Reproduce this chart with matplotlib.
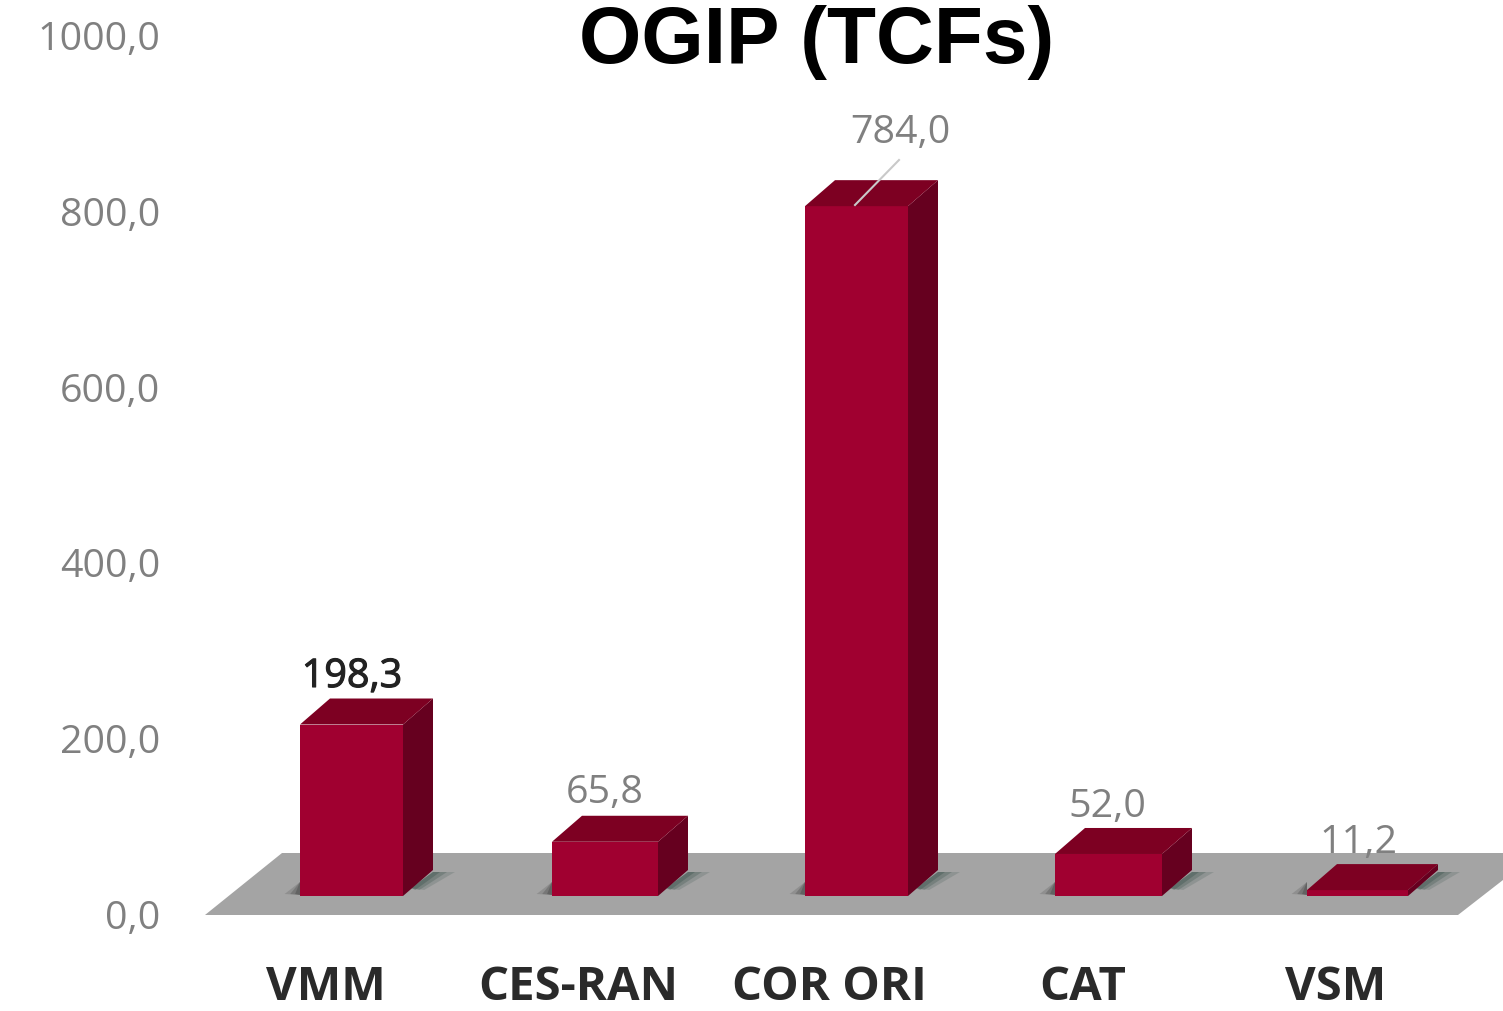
#!/usr/bin/env python3
"""OGIP (TCFs) -- fake-3D column chart with a grey floor."""
import matplotlib
matplotlib.use("Agg")
import matplotlib.pyplot as plt
import matplotlib.patheffects as pe
from matplotlib.patches import Polygon

categories = ["VMM", "CES-RAN", "COR ORI", "CAT", "VSM"]
values = [198.3, 65.8, 784.0, 52.0, 11.2]
value_labels = ["198,3", "65,8", "784,0", "52,0", "11,2"]
yticks = [0, 200, 400, 600, 800, 1000]
ytick_labels = ["0,0", "200,0", "400,0", "600,0", "800,0", "1000,0"]

FRONT, SIDE, TOP = "#a00030", "#66001f", "#7d0022"
GREY_TXT = "#808080"
W, H = 1503, 1011

plt.rcParams["font.family"] = ["Open Sans", "DejaVu Sans"]
fig = plt.figure(figsize=(W / 100, H / 100), dpi=100)
ax = fig.add_axes([0, 0, 1, 1]); ax.axis("off")
ax.set_xlim(0, W); ax.set_ylim(H, 0)   # axes in picture pixels, y maps value -> row below
Y0, Y1000 = 915.0, 36.0   # rows of the 0 and 1000 ticks
PX_PER = (Y0 - Y1000) / 1000
BAR_PX_PER = 0.885        # bars sit in perspective, slightly off the tick scale

def ypx(v):
    return Y0 - v * PX_PER

# floor
ax.add_patch(Polygon([(205, 915), (282, 853), (1503, 853), (1503, 880), (1458, 915)],
                     fc="#a4a4a4", ec="none", zorder=1))

BAR_X = [300, 552, 805, 1055, 1307]
BAR_W = [103, 106, 103, 107, 101]
DX, DY, BASE = 30, 26, 896
for x, w, v in zip(BAR_X, BAR_W, values):
    top = BASE + 4 - v * BAR_PX_PER
    # soft contact shadows either side of the base
    for grow, a in [(22, .18), (14, .25), (7, .3)]:
        ax.add_patch(Polygon([(x + w + 8, BASE - 8), (x + w + DX, BASE - DY + 2), (x + w + DX + grow, BASE - DY + 2),
                              (x + w + 8 + grow * .6, BASE - 6)], fc="#2f4a42", ec="none", alpha=a, zorder=2))
        ax.add_patch(Polygon([(x, BASE - 14), (x - grow * .7, BASE - 2), (x, BASE - 1)],
                             fc="#333333", ec="none", alpha=a, zorder=2))
    ax.add_patch(Polygon([(x, top), (x + w, top), (x + w, BASE), (x, BASE)], fc=FRONT, ec="none", zorder=3))
    ax.add_patch(Polygon([(x + w, top), (x + w + DX, top - DY), (x + w + DX, BASE - DY), (x + w, BASE)],
                         fc=SIDE, ec="none", zorder=3))
    ax.add_patch(Polygon([(x, top), (x + DX, top - DY), (x + w + DX, top - DY), (x + w, top)],
                         fc=TOP, ec="none", zorder=4))

# value labels
lab_x = [352, 605, 900, 1107, 1358]
lab_y = [677, 793, 133, 807, 843]
for i, (lx, ly, s) in enumerate(zip(lab_x, lab_y, value_labels)):
    t = ax.text(lx, ly, s, ha="center", va="center", fontsize=28.4,
                color="#222222" if i == 0 else GREY_TXT, zorder=6)
    if i == 0:
        t.set_path_effects([pe.withStroke(linewidth=0.8, foreground="#222222")])
ax.plot([855, 899], [205, 160], color="#c9c9c9", lw=1.5, zorder=6)

# y ticks
for t, s in zip(yticks, ytick_labels):
    ax.text(160, ypx(t) + 4, s, ha="right", va="center", fontsize=28.4, color=GREY_TXT)

# category labels
cat_x = [326, 578, 829, 1083, 1336]
for cx, c in zip(cat_x, categories):
    ax.text(cx, 988, c, ha="center", va="center", fontsize=34, color="#2a2a2a", weight="bold")

ax.text(817, 63, "OGIP (TCFs)", ha="center", va="baseline", fontsize=57.8, weight="bold",
        family=["Liberation Sans", "DejaVu Sans"], color="black", zorder=7)

fig.savefig("out.png", dpi=100)
